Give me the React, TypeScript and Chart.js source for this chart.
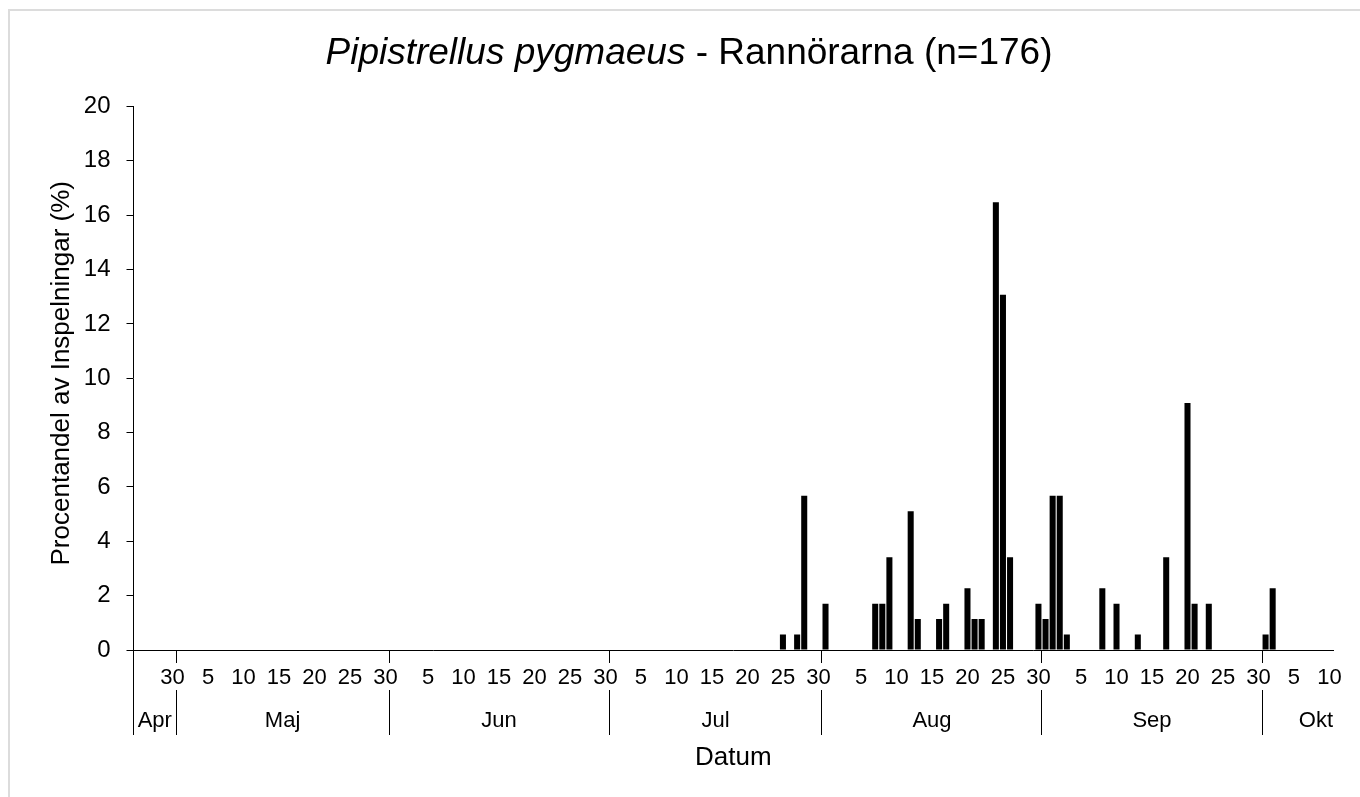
import React, { useEffect, useRef } from 'react';
import { Chart, registerables } from 'chart.js';

Chart.register(...registerables);

const FAMILY = '"Liberation Sans", Arial, Helvetica, sans-serif';

// ---- data ----
const FIRST_DATE = '2021-04-25';
const LAST_DATE = '2021-10-10';

const MONTH_NAMES = ['Apr', 'Maj', 'Jun', 'Jul', 'Aug', 'Sep', 'Okt'];
// last category of each month group on the axis
const GROUP_LAST_DAYS = ['04-30', '05-30', '06-30', '07-30', '08-30', '09-30', '10-10'];

const TICK_DAYS = [5, 10, 15, 20, 25, 30];
const FIRST_TICK = '04-30';

const RECORD_DATES = [
  '07-25', '07-27', '07-28', '07-31',
  '08-07', '08-08', '08-09', '08-12', '08-13', '08-16', '08-17',
  '08-20', '08-21', '08-22', '08-24', '08-25', '08-26', '08-30', '08-31',
  '09-01', '09-02', '09-03', '09-08', '09-10', '09-13', '09-17',
  '09-20', '09-21', '09-23',
  '10-01', '10-02',
];
const RECORD_PERCENT = [
  0.57, 0.57, 5.68, 1.7,
  1.7, 1.7, 3.41, 5.11, 1.14, 1.14, 1.7,
  2.27, 1.14, 1.14, 16.48, 13.07, 3.41, 1.7, 1.14,
  5.68, 5.68, 0.57, 2.27, 1.7, 0.57, 3.41,
  9.09, 1.7, 1.7,
  0.57, 2.27,
];

const TITLE_SPECIES = 'Pipistrellus pygmaeus';
const TITLE_REST = ' - Rannörarna (n=176)';
const Y_TITLE = 'Procentandel av Inspelningar (%)';
const X_TITLE = 'Datum';

function buildDays(): string[] {
  const out: string[] = [];
  const d = new Date(FIRST_DATE + 'T00:00:00Z');
  const end = new Date(LAST_DATE + 'T00:00:00Z');
  while (d.getTime() <= end.getTime()) {
    const mm = String(d.getUTCMonth() + 1).padStart(2, '0');
    const dd = String(d.getUTCDate()).padStart(2, '0');
    out.push(`${mm}-${dd}`);
    d.setUTCDate(d.getUTCDate() + 1);
  }
  return out;
}

const DAYS = buildDays();
const VALUES = DAYS.map((k) => {
  const i = RECORD_DATES.indexOf(k);
  return i >= 0 ? RECORD_PERCENT[i] : null;
});

function tickText(index: number): string {
  const key = DAYS[index];
  if (!key || key < FIRST_TICK) return '';
  const day = parseInt(key.slice(3), 10);
  return TICK_DAYS.includes(day) ? String(day) : '';
}

const align = (p: number) => Math.round(p - 0.5) + 0.5;

const decorPlugin = {
  id: 'decor',
  afterDraw(chart: any) {
    const ctx = chart.ctx as CanvasRenderingContext2D;
    const xs = chart.scales.x;
    const area = chart.chartArea;
    ctx.save();

    // outer chart border (top & left visible)
    ctx.strokeStyle = '#dcdcdc';
    ctx.lineWidth = 2;
    ctx.beginPath();
    ctx.moveTo(9, chart.height + 2);
    ctx.lineTo(9, 10);
    ctx.lineTo(chart.width + 2, 10);
    ctx.stroke();

    // title with italic species name
    ctx.fillStyle = '#000';
    ctx.textBaseline = 'alphabetic';
    ctx.textAlign = 'left';
    const italic = `italic 37px ${FAMILY}`;
    const normal = `37px ${FAMILY}`;
    ctx.font = italic;
    const w1 = ctx.measureText(TITLE_SPECIES).width;
    ctx.font = normal;
    const w2 = ctx.measureText(TITLE_REST).width;
    const titleCenter = 689;
    const sx = titleCenter - (w1 + w2) / 2;
    ctx.font = italic;
    ctx.fillText(TITLE_SPECIES, sx, 64);
    ctx.font = normal;
    ctx.fillText(TITLE_REST, sx + w1, 64);

    // y axis title
    ctx.save();
    ctx.font = `26px ${FAMILY}`;
    ctx.textAlign = 'center';
    ctx.translate(69, (area.top + area.bottom) / 2 - 5);
    ctx.rotate(-Math.PI / 2);
    ctx.fillText(Y_TITLE, 0, 0);
    ctx.restore();

    // x axis title
    ctx.font = `26px ${FAMILY}`;
    ctx.textAlign = 'center';
    ctx.fillText(X_TITLE, (area.left + area.right) / 2, area.bottom + 115);

    // month group separators and labels
    const half = (xs.getPixelForValue(1) - xs.getPixelForValue(0)) / 2;
    ctx.strokeStyle = '#000';
    ctx.lineWidth = 1;
    const leftX = align(area.left);
    ctx.beginPath();
    ctx.moveTo(leftX, area.bottom);
    ctx.lineTo(leftX, area.bottom + 85);
    ctx.stroke();

    let start = area.left;
    ctx.font = `22px ${FAMILY}`;
    GROUP_LAST_DAYS.forEach((key, gi) => {
      const idx = DAYS.indexOf(key);
      const isLast = gi === GROUP_LAST_DAYS.length - 1;
      const end = isLast ? area.right : xs.getPixelForValue(idx) + half;
      if (!isLast) {
        const bx = align(end);
        ctx.beginPath();
        ctx.moveTo(bx, area.bottom);
        ctx.lineTo(bx, area.bottom + 13);
        ctx.moveTo(bx, area.bottom + 40);
        ctx.lineTo(bx, area.bottom + 85);
        ctx.stroke();
        ctx.textAlign = 'center';
        ctx.fillText(MONTH_NAMES[gi], (start + end) / 2, area.bottom + 77);
      } else {
        ctx.textAlign = 'right';
        ctx.fillText(MONTH_NAMES[gi], area.right, area.bottom + 77);
      }
      start = end;
    });

    ctx.restore();
  },
};

export default function App() {
  const ref = useRef<HTMLCanvasElement | null>(null);

  useEffect(() => {
    if (!ref.current) return;
    Chart.defaults.font.family = FAMILY;
    const chart = new Chart(ref.current, {
      type: 'bar',
      data: {
        labels: DAYS,
        datasets: [
          {
            data: VALUES as any,
            backgroundColor: '#000',
            borderWidth: 0,
            barPercentage: 0.85,
            categoryPercentage: 1,
          },
        ],
      },
      plugins: [decorPlugin],
      options: {
        responsive: false,
        animation: false,
        layout: { padding: { left: 0, right: 27, top: 106.5, bottom: 87 } },
        plugins: {
          legend: { display: false },
          tooltip: { enabled: false },
          title: { display: false },
        },
        scales: {
          x: {
            type: 'category',
            offset: true,
            grid: { display: false, drawTicks: false },
            border: { display: true, color: '#000', width: 1 },
            ticks: {
              autoSkip: false,
              maxRotation: 0,
              minRotation: 0,
              color: '#000',
              font: { family: FAMILY, size: 22 },
              padding: 15,
              callback: (_v: any, i: number) => tickText(i),
            },
            afterFit: (s: any) => {
              s.height = 60;
            },
          },
          y: {
            min: 0,
            max: 20,
            ticks: {
              stepSize: 2,
              color: '#000',
              font: { family: FAMILY, size: 24 },
              padding: 16,
            },
            grid: {
              drawOnChartArea: false,
              drawTicks: true,
              tickLength: 7,
              color: '#000',
              lineWidth: 1,
            },
            border: { display: true, color: '#000', width: 1 },
            afterFit: (s: any) => {
              s.width = 133.5;
            },
          },
        },
      },
    });
    return () => chart.destroy();
  }, []);

  return (
    <div style={{ position: 'fixed', left: 0, top: 0, width: 1360, height: 797, background: '#fff' }}>
      <canvas ref={ref} width={1360} height={797} style={{ display: 'block' }} />
    </div>
  );
}
